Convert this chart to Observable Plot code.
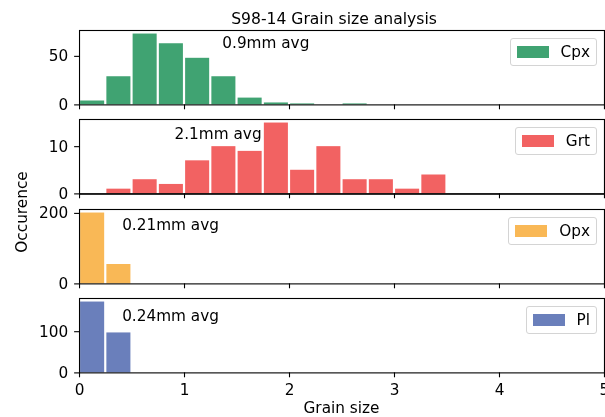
<!DOCTYPE html>
<html>
<head>
<meta charset="utf-8">
<script src="https://cdn.jsdelivr.net/npm/d3@7"></script>
<script src="https://cdn.jsdelivr.net/npm/@observablehq/plot@0.6"></script>
<style>
  html, body { margin: 0; padding: 0; background: white; }
  #fig { position: relative; width: 605px; height: 417px; overflow: hidden; font-family: "DejaVu Sans", sans-serif; background: white; }
  .panel { position: absolute; left: 0; }
  .legend { position: absolute; right: 8px; height: 26px; display: flex; align-items: center;
            padding: 0 6px 0 6px; border: 1px solid #d4d4d4; border-radius: 3px; background: rgba(255,255,255,0.85);
            font-size: 15.3px; color: black; }
  .legend .sw { width: 32px; height: 11.7px; margin-right: 12px; }
</style>
</head>
<body>
<div id="fig"></div>
<script>
// ---- data ----
const title = "S98-14 Grain size analysis";
const xLabel = "Grain size";
const yLabel = "Occurence";
const binWidth = 0.25;
const minerals = ["Cpx", "Grt", "Opx", "Pl"];
const cpxCounts = [4, 29, 73, 63, 48, 29, 7, 2, 1, 0, 1];
const grtCounts = [0, 1, 3, 2, 7, 10, 9, 15, 5, 10, 3, 3, 1, 4];
const opxCounts = [201, 55];
const plCounts = [172, 97];
const avgLabels = ["0.9mm avg", "2.1mm avg", "0.21mm avg", "0.24mm avg"];
const xTicks = [0, 1, 2, 3, 4, 5];
const yTicks = [[0, 50], [0, 10], [0, 200], [0, 100]];

// ---- layout / style ----
const colors = ["#40A372", "#F26262", "#F9B856", "#6A7FBB"];
const annotX = [1.36, 0.905, 0.406, 0.406];
const annotY = [63.5, 12.6, 166.6, 139];
const frameTops = [30.3, 119.3, 209, 298];
const frameH = 74.4;
const mT = 10, mB = 10, mBLast = 40;
const tickFont = "15.3px";

const allCounts = [cpxCounts, grtCounts, opxCounts, plCounts];
const fig = document.getElementById("fig");

allCounts.forEach((counts, i) => {
  const bins = counts.map((c, k) => ({x1: k * binWidth, x2: (k + 1) * binWidth, y: c}));
  const last = i === allCounts.length - 1;
  const mb = last ? mBLast : mB;
  const ymax = d3.max(counts) * 1.05;
  const marks = [
    Plot.rectY(bins.filter(d => d.y > 0), {x1: "x1", x2: "x2", y: "y", fill: colors[i], insetLeft: 1.1, insetRight: 1.1}),
  ];
  if (i === 1) marks.push(Plot.ruleY([0], {stroke: "#555", strokeWidth: 2, mixBlendMode: "multiply"}));
  marks.push(
    Plot.text([avgLabels[i]], {x: () => annotX[i], y: () => annotY[i], text: d => d, textAnchor: "start", fontSize: 15.3, fill: "black"}),
    Plot.frame({stroke: "black", strokeWidth: 1.1}),
    Plot.axisY({ticks: yTicks[i], tickSize: 4.9, tickPadding: 6.5, strokeWidth: 1.1, fontSize: tickFont, label: null, color: "black"}),
    Plot.axisX({ticks: xTicks, tickSize: 4.9, tickPadding: 6, strokeWidth: 1.1, fontSize: tickFont, label: null,
                tickFormat: last ? (d => String(d)) : (() => "")})
  );
  const chart = Plot.plot({
    width: 605,
    height: frameH + mT + mb,
    marginLeft: 79, marginRight: 1, marginTop: mT, marginBottom: mb,
    style: {background: "transparent", fontFamily: "DejaVu Sans", color: "black", overflow: "visible"},
    x: {domain: [0, 5], axis: null},
    y: {domain: [0, ymax], axis: null},
    marks
  });
  const wrap = document.createElement("div");
  wrap.className = "panel";
  wrap.style.top = (frameTops[i] - mT) + "px";
  wrap.appendChild(chart);
  fig.appendChild(wrap);

  const lg = document.createElement("div");
  lg.className = "legend";
  lg.style.top = (frameTops[i] + 7.7) + "px";
  const sw = document.createElement("div");
  sw.className = "sw";
  sw.style.background = colors[i];
  const tx = document.createElement("span");
  tx.textContent = minerals[i];
  lg.appendChild(sw); lg.appendChild(tx);
  fig.appendChild(lg);
});

// figure-level texts
const svg = d3.select(fig).append("svg")
  .attr("width", 605).attr("height", 417)
  .style("position", "absolute").style("left", 0).style("top", 0)
  .style("pointer-events", "none")
  .attr("font-family", "DejaVu Sans");
svg.append("text").attr("x", 334).attr("y", 24).attr("text-anchor", "middle").attr("font-size", 15.6).text(title);
svg.append("text").attr("x", 341.5).attr("y", 413).attr("text-anchor", "middle").attr("font-size", 15.3).text(xLabel);
svg.append("text").attr("transform", "translate(27,212) rotate(-90)").attr("text-anchor", "middle").attr("font-size", 15.3).text(yLabel);
</script>
</body>
</html>
